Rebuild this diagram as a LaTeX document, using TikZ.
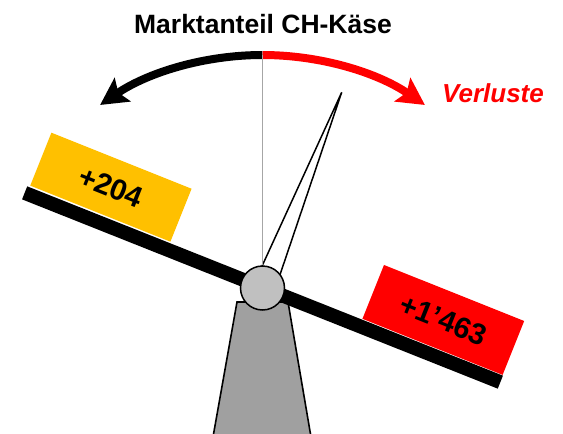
\documentclass[tikz,border=0pt]{standalone}
\usepackage{fontspec}
\setmainfont{Liberation Sans}
\usetikzlibrary{arrows.meta}
\definecolor{boxyellow}{HTML}{FFC000}
\definecolor{boxred}{HTML}{FF0000}
\definecolor{vline}{HTML}{A6A6A6}
\definecolor{pivotgray}{HTML}{C0C0C0}
\definecolor{basegray}{HTML}{A0A0A0}
\tikzset{
  titletext/.style={font=\fontsize{26.5}{28}\selectfont\bfseries, inner sep=0pt},
  valbox/.style={minimum width=151pt, minimum height=57pt, inner sep=0pt, rotate=-21.8,
    font=\fontsize{29.5}{31}\selectfont\bfseries},
  bigarrow/.style={line width=8pt, -{Stealth[length=27pt,width=28pt,inset=5pt]}},
}
\begin{document}
\begin{tikzpicture}[x=1pt,y=1pt]
\useasboundingbox (0,0) rectangle (563,-434);
% title and label
\node[titletext, anchor=base] (title) at (263,-33) {Marktanteil CH-Käse};
\node[titletext, anchor=base west, text=boxred, font=\fontsize{26}{28}\selectfont\bfseries\itshape] (verl) at (442,-102) {Verluste};
% arcs
\coordinate (top) at (262.5,-55);
\draw[bigarrow, black] (top) arc[start angle=90, end angle=124.2, radius=289];
\draw[bigarrow, boxred] (top) arc[start angle=90, end angle=55.8, radius=289];
% base
\draw[fill=basegray, line width=1.6pt] (237,-302) -- (288,-302) -- (311,-437) -- (213,-437) -- cycle;
% beam
\node[fill=black, minimum width=512pt, minimum height=14pt, inner sep=0pt, rotate=-21.7] (beam) at (262.5,-287.5) {};
% boxes
\node[valbox, fill=boxyellow] (yellow) at (110.9,-187.2) {+204};
\node[valbox, fill=boxred, minimum height=58pt] (red) at (443.3,-319.9) {+1’463};
% needle
\coordinate (tip) at (341.7,-92.3);
\draw[fill=white, line width=1.5pt, line join=miter] (tip) -- (252,-288) -- (275.5,-288) -- cycle;
% pivot
\node[circle, minimum size=44pt, inner sep=0pt, fill=pivotgray, draw=black, line width=1.5pt] (pivot) at (262.5,-288) {};
% vertical line
\draw[vline, line width=1.5pt] (top) -- (pivot.north);
\end{tikzpicture}
\end{document}
